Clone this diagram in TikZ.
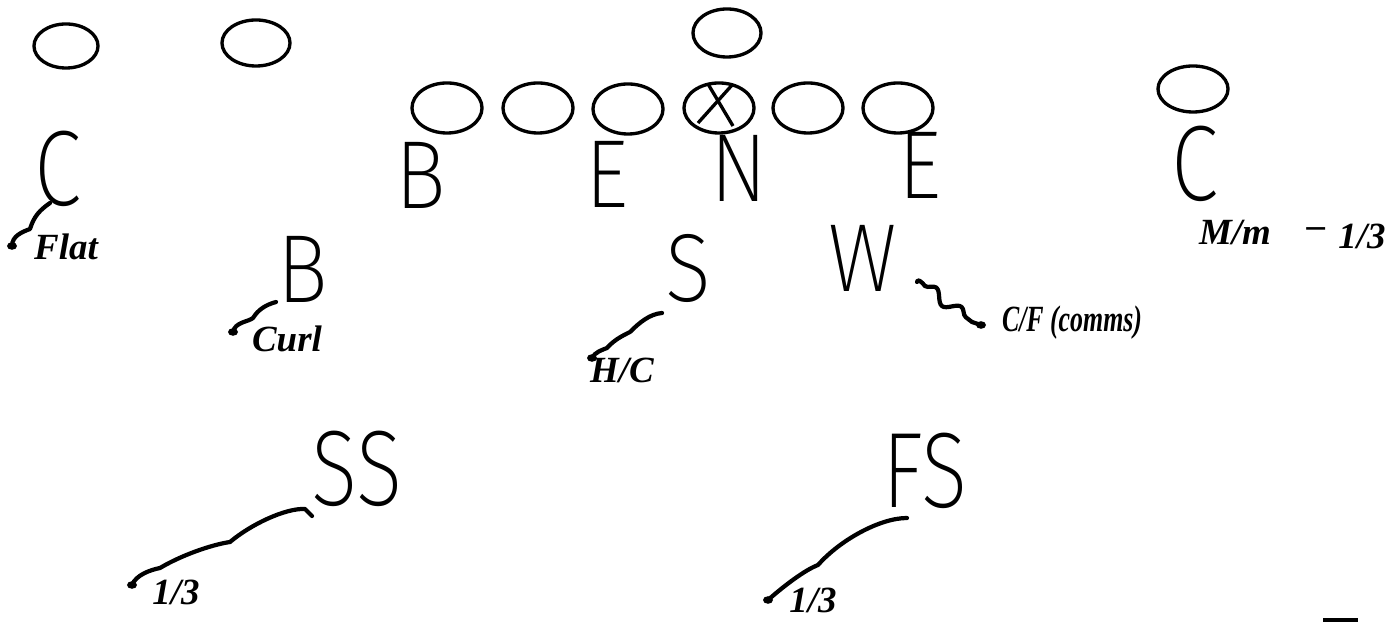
\documentclass[tikz,border=0pt]{standalone}
\usepackage{fontspec}
\setmainfont{Liberation Sans}
\newfontfamily\thinfont{Fira Sans ExtraLight}
\newfontfamily\handfont{Liberation Serif}
\usetikzlibrary{shapes.geometric,decorations.pathmorphing}
\begin{document}
\begin{tikzpicture}[x=0.01cm,y=-0.01cm,
  pl/.style={ellipse,draw,line width=0.95pt,inner sep=0,minimum width=0.7cm,minimum height=0.5cm},
  ltr/.style={font=\thinfont\fontsize{27.5}{27.5}\selectfont,inner sep=0,text depth=0pt,xscale=0.88},
  bigltr/.style={font=\thinfont\fontsize{30.5}{30.5}\selectfont,inner sep=0,text depth=0pt,xscale=0.8},
  hw/.style={font=\handfont\bfseries\itshape\fontsize{10.5}{11}\selectfont,inner sep=0},
  crv/.style={line width=1.2pt,line cap=round,line join=round}]
\useasboundingbox (0,0) rectangle (1388,622);

% players (offence)
\node[pl,minimum width=0.64cm,minimum height=0.44cm] (wr1) at (66,46) {};
\node[pl,minimum width=0.68cm,minimum height=0.46cm] (wr2) at (256,43) {};
\node[pl,minimum width=0.68cm,minimum height=0.48cm] (qb) at (727,33) {};
\node[pl] (t1) at (447,108) {};
\node[pl] (g1) at (538,108) {};
\node[pl] (g2) at (628,109) {};
\node[pl] (ctr) at (719,108) {};
\node[pl] (g3) at (808,108) {};
\node[pl] (t2) at (898,108) {};
\node[pl,minimum height=0.46cm] (wr3) at (1193,89) {};
\draw[line width=0.95pt] ([shift={(-11,-24)}]ctr.center) -- ([shift={(14,18)}]ctr.center);
\draw[line width=0.95pt] ([shift={(14,-24)}]ctr.center) -- ([shift={(-21,15)}]ctr.center);

% defence letters
\node[bigltr] (cl) at (58,168) {C};
\node[ltr] (bl) at (421,175) {B};
\node[ltr] (el) at (607,174) {E};
\node[ltr] (n) at (739,168) {N};
\node[ltr] (er) at (920,165) {E};
\node[bigltr] (cr) at (1195,163) {C};
\node[ltr] (b2) at (303,269) {B};
\node[ltr] (s) at (688,268) {S};
\node[ltr] (w) at (863,258) {W};
\node[bigltr] (ss) at (357,468) {SS};
\node[bigltr] (fs) at (925,470) {FS};

% handwritten assignments
\node[hw] (flat) at (66,247) {Flat};
\node[hw] (curl) at (287,339) {Curl};
\node[hw] (hc) at (622,370) {H/C};
\node[hw,xscale=0.7] (cf) at (1072,323) {C/F (comms)};
\node[hw] (mm) at (1235,233) {M/m};
\node[hw] (dash) at (1316,233) {–};
\node[hw] (third) at (1362,236) {1/3};
\node[hw] (ssz) at (176,592) {1/3};
\node[hw] (fsz) at (813,600) {1/3};

% drop ends
\coordinate (dflat) at (12,246);
\coordinate (dcurl) at (233,332);
\coordinate (dhc) at (592,358);
\coordinate (dcf) at (981,325);
\coordinate (dss) at (132,585);
\coordinate (dfs) at (768,600);
\coordinate (wst) at (917,282);

\draw[crv] (dflat) .. controls (12,236) and (22,232) .. (30,229)
  .. controls (34,216) and (40,210) .. (50,203);
\draw[crv] (dcurl) .. controls (235,322) and (248,322) .. (253,318)
  .. controls (258,310) and (265,305) .. (276,302);
\draw[crv] (dhc) .. controls (595,352) and (602,350) .. (607,348)
  .. controls (614,340) and (622,336) .. (630,332)
  .. controls (640,322) and (650,314) .. (662,313);
\draw[crv] (wst) .. controls (917,278) and (922,282) .. (925,286);
\draw[crv,decorate,decoration={snake,amplitude=1.6pt,segment length=9pt}] (925,286) -- (972,322);
\draw[crv] (972,322) -- (dcf);
\draw[crv] (dss) .. controls (136,575) and (150,570) .. (160,568)
  .. controls (180,556) and (210,545) .. (230,542)
  .. controls (250,525) and (285,508) .. (305,509) -- (312,516);
\draw[crv] (dfs) .. controls (785,585) and (805,570) .. (818,565)
  .. controls (840,540) and (880,518) .. (907,518);
\foreach \p in {dflat,dcurl,dhc,dcf,dss,dfs}
  \fill (\p) ellipse (0.05cm and 0.038cm);

\draw[line width=1.2pt] (1323,620) -- (1358,620);
\end{tikzpicture}
\end{document}
